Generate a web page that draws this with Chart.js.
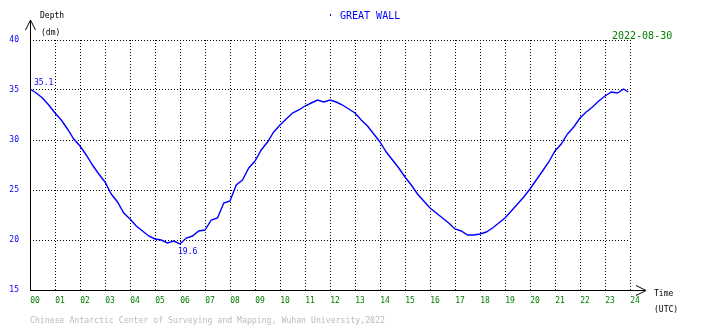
<!DOCTYPE html>
<html>
<head>
<meta charset="utf-8">
<script src="https://cdn.jsdelivr.net/npm/chart.js@4/dist/chart.umd.min.js"></script>
<style>
  html, body { margin: 0; padding: 0; background: #fff; }
  #wrap { width: 710px; height: 328px; }
</style>
</head>
<body>
<div id="wrap"><canvas id="tide"></canvas></div>
<script>
// === Data (hours UTC, depth in dm) ===
const hours = [
  0, 0.25, 0.5, 0.75, 1, 1.25, 1.5, 1.75, 2, 2.25, 2.5, 2.75,
  3, 3.25, 3.5, 3.75, 4, 4.25, 4.5, 4.75, 5, 5.25, 5.5, 5.75,
  6, 6.25, 6.5, 6.75, 7, 7.25, 7.5, 7.75, 8, 8.25, 8.5, 8.75,
  9, 9.25, 9.5, 9.75, 10, 10.25, 10.5, 10.75, 11, 11.25, 11.5, 11.75,
  12, 12.25, 12.5, 12.75, 13, 13.25, 13.5, 13.75, 14, 14.25, 14.5, 14.75,
  15, 15.25, 15.5, 15.75, 16, 16.25, 16.5, 16.75, 17, 17.25, 17.5, 17.75,
  18, 18.25, 18.5, 18.75, 19, 19.25, 19.5, 19.75, 20, 20.25, 20.5, 20.75,
  21, 21.25, 21.5, 21.75, 22, 22.25, 22.5, 22.75, 23, 23.25, 23.5, 23.75, 23.92
];
const depth = [
  35.1, 34.7, 34.2, 33.5, 32.7, 32.0, 31.1, 30.1, 29.4, 28.5, 27.5, 26.6,
  25.8, 24.6, 23.8, 22.7, 22.1, 21.4, 20.9, 20.4, 20.1, 20.0, 19.7, 19.9,
  19.6, 20.2, 20.4, 20.9, 21.0, 22.0, 22.2, 23.7, 23.9, 25.5, 26.0, 27.2,
  27.9, 29.0, 29.8, 30.8, 31.5, 32.1, 32.7, 33.0, 33.4, 33.7, 34.0, 33.8,
  34.0, 33.8, 33.5, 33.1, 32.7, 32.0, 31.4, 30.6, 29.8, 28.8, 28.0, 27.2,
  26.3, 25.5, 24.6, 23.9, 23.2, 22.7, 22.2, 21.7, 21.1, 20.9, 20.5, 20.5,
  20.6, 20.8, 21.2, 21.7, 22.2, 22.9, 23.6, 24.3, 25.1, 26.0, 26.9, 27.8,
  28.9, 29.6, 30.6, 31.3, 32.2, 32.8, 33.3, 33.9, 34.4, 34.8, 34.7, 35.1, 34.8
];
const yTicks = [15, 20, 25, 30, 35, 40];
const xTicks = ['00','01','02','03','04','05','06','07','08','09','10','11','12',
                '13','14','15','16','17','18','19','20','21','22','23','24'];

const stationName = 'GREAT WALL';
const dateLabel = '2022-08-30';
const footer = 'Chinese Antarctic Center of Surveying and Mapping, Wuhan University,2022';

const MONO = '"DejaVu Sans Mono", "Liberation Mono", monospace';

// === Axes, arrows and texts ===
const decorPlugin = {
  id: 'decor',
  afterDraw(chart) {
    const ctx = chart.ctx;
    const a = chart.chartArea;
    ctx.save();
    ctx.strokeStyle = '#000';
    ctx.lineWidth = 1;

    // axis lines with arrows
    ctx.beginPath();
    ctx.moveTo(a.left + 0.5, a.bottom + 0.5);
    ctx.lineTo(a.left + 0.5, 20);
    ctx.moveTo(a.left - 4.5, 30);
    ctx.lineTo(a.left + 0.5, 20);
    ctx.lineTo(a.left + 5.5, 30);
    ctx.moveTo(a.left, a.bottom + 0.5);
    ctx.lineTo(646, a.bottom + 0.5);
    ctx.moveTo(636, a.bottom - 4.5);
    ctx.lineTo(646, a.bottom + 0.5);
    ctx.lineTo(636, a.bottom + 5.5);
    ctx.stroke();

    ctx.textBaseline = 'middle';
    ctx.textAlign = 'left';

    ctx.fillStyle = '#000';
    ctx.font = '8px ' + MONO;
    ctx.fillText('Depth', 40, 16);
    ctx.fillText('(dm)', 41, 33);
    ctx.fillText('Time', 654, 294);
    ctx.fillText('(UTC)', 654, 310);

    ctx.fillStyle = '#0000ff';
    ctx.fillRect(330, 14, 1, 2);
    ctx.font = '10px ' + MONO;
    ctx.fillText(stationName, 340, 16);

    ctx.fillStyle = '#008000';
    ctx.fillText(dateLabel, 612, 36);

    ctx.fillStyle = '#bbbbbb';
    ctx.font = '8.2px ' + MONO;
    ctx.fillText(footer, 30, 321);

    // max / min labels at data points
    const pts = chart.getDatasetMeta(0).data;
    let iMin = 0;
    depth.forEach((v, i) => { if (v < depth[iMin]) iMin = i; });
    ctx.fillStyle = '#0000ff';
    ctx.font = '8px ' + MONO;
    ctx.fillText(depth[0].toFixed(1), pts[0].x + 4, pts[0].y - 6);
    ctx.fillText(depth[iMin].toFixed(1), pts[iMin].x - 2, pts[iMin].y + 8);
    ctx.restore();
  }
};

new Chart(document.getElementById('tide'), {
  type: 'line',
  data: {
    datasets: [{
      data: hours.map((h, i) => ({ x: h, y: depth[i] })),
      borderColor: '#0000ff',
      borderWidth: 1.4,
      pointRadius: 0,
      tension: 0,
      fill: false
    }]
  },
  options: {
    responsive: true,
    maintainAspectRatio: false,
    animation: false,
    events: [],
    layout: { padding: { left: 0, top: 40, right: 80, bottom: 0 } },
    plugins: { legend: { display: false }, tooltip: { enabled: false } },
    scales: {
      x: {
        type: 'linear',
        min: 0, max: 24,
        afterFit: s => { s.height = 38; },
        afterBuildTicks: s => { s.ticks = xTicks.map((t, i) => ({ value: i })); },
        grid: { color: '#000', lineWidth: 1, drawTicks: false },
        border: { display: false, dash: [1, 2] },
        ticks: {
          color: '#008000',
          font: { family: MONO, size: 8 },
          padding: 6,
          labelOffset: 5,
          maxRotation: 0,
          autoSkip: false,
          callback: (v, i) => xTicks[i]
        }
      },
      y: {
        min: 15, max: 40,
        afterFit: s => { s.width = 30; },
        afterBuildTicks: s => { s.ticks = yTicks.map(v => ({ value: v })); },
        grid: { color: '#000', lineWidth: 1, drawTicks: false },
        border: { display: false, dash: [1, 2] },
        ticks: {
          color: '#0000ff',
          font: { family: MONO, size: 8 },
          padding: 11,
          callback: v => String(v)
        }
      }
    }
  },
  plugins: [decorPlugin]
});
</script>
</body>
</html>
